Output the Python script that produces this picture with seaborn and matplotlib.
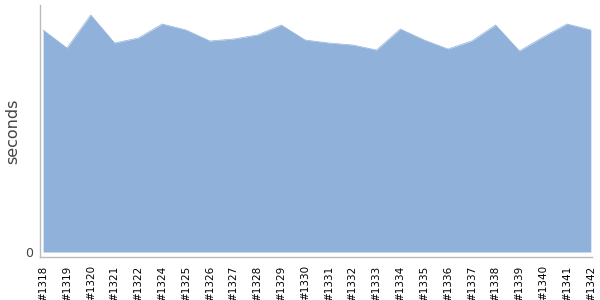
import matplotlib
matplotlib.use("Agg")
import matplotlib.pyplot as plt
import seaborn as sns
import pandas as pd

builds = ["#1318", "#1319", "#1320", "#1321", "#1322", "#1324", "#1325", "#1326",
          "#1327", "#1328", "#1329", "#1330", "#1331", "#1332", "#1333", "#1334",
          "#1335", "#1336", "#1337", "#1338", "#1339", "#1340", "#1341", "#1342"]
seconds = [222, 204, 237, 209, 214, 228, 222, 211, 213, 217, 227, 212, 209, 207,
           202, 223, 212, 203, 211, 227, 201, 215, 228, 222]

df = pd.DataFrame({"build": builds, "seconds": seconds, "pos": range(len(builds))})

sns.set_style("white")
plt.rcParams['font.family'] = ['DejaVu Sans']

fig = plt.figure(figsize=(6, 3), dpi=100)
ax = fig.add_axes([40/600, 43/300, 552/600, 252/300])

color = "#8fb1da"
sns.lineplot(data=df, x="pos", y="seconds", ax=ax, color=color, linewidth=0.5)
ax.fill_between(df["pos"], 0, df["seconds"], color=color, linewidth=0)

ax.set_xlim(-0.13, 23.05)
ax.set_ylim(-5, 247)
ax.set_xticks(df["pos"])
ax.set_xticklabels(builds, rotation=90, fontsize=7.5, color="black")
ax.set_yticks([0])
ax.set_yticklabels(["0"], fontsize=9, color="#444444")
ax.set_xlabel("")
ax.set_ylabel("seconds", fontsize=11.5, color="#444444", va="center")
ax.yaxis.set_label_coords(-0.05, 0.5)

for s in ["top", "right"]:
    ax.spines[s].set_visible(False)
for s in ["left", "bottom"]:
    ax.spines[s].set_color("#bbbbbb")
    ax.spines[s].set_linewidth(1)
ax.tick_params(axis="x", colors="#bbbbbb", length=4, width=1, pad=2, labelcolor="black")
ax.tick_params(axis="y", colors="#bbbbbb", length=3, width=1, pad=2, labelcolor="#444444")

fig.savefig("out.png", dpi=100)
